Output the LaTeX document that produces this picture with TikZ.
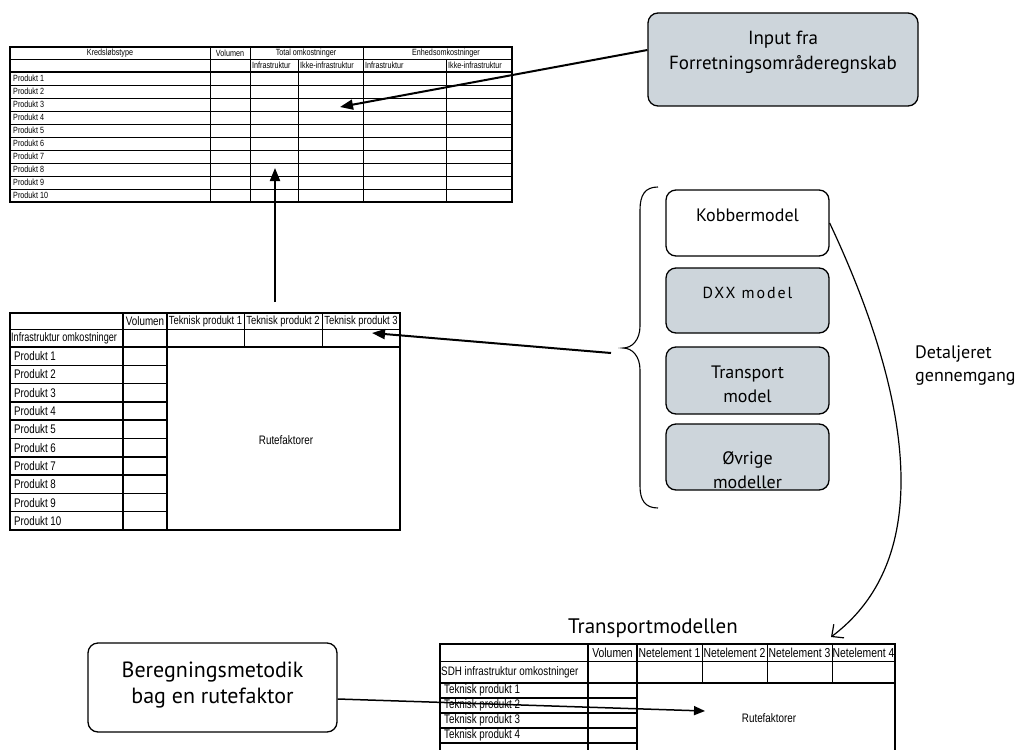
\documentclass[tikz,border=0pt]{standalone}
\usepackage{fontspec}
\setmainfont{Liberation Sans}
\newfontfamily\ptsans{PT Sans}
\newfontfamily\ptspaced[LetterSpace=12]{PT Sans}
\usetikzlibrary{arrows.meta}
\definecolor{boxgray}{RGB}{205,213,219}
\newcommand\nw[1]{\scalebox{0.8}[1]{#1}}
\tikzset{
  tsmall/.style={inner sep=0pt, font=\fontsize{9}{9}\selectfont},
  tmid/.style={inner sep=0pt, font=\fontsize{12.3}{13}\selectfont},
  thdr/.style={inner sep=0pt, font=\fontsize{11.8}{12}\selectfont},
  tnet/.style={inner sep=0pt, font=\fontsize{13}{13}\selectfont},
  tprod/.style={inner sep=0pt, font=\fontsize{12.5}{13}\selectfont},
  thin/.style={line width=0.9pt},
  thick2/.style={line width=2pt},
  mbox/.style={draw, line width=1.3pt, rounded corners=10pt, inner sep=0pt},
  bigtxt/.style={inner sep=0pt, align=center, font=\ptsans\fontsize{19}{25}\selectfont},
  arr/.style={line width=2pt, -{Triangle[length=13pt,width=10pt]}},
  arrthin/.style={line width=1.5pt, -{Triangle[length=11pt,width=9pt]}},
  curvearr/.style={line width=1.2pt, -{Straight Barb[length=9pt,width=17pt]}},
}
\begin{document}
\begin{tikzpicture}[x=1pt,y=-1pt]
\useasboundingbox (0,0) rectangle (1032,749);

% ---------------- top table ----------------
\draw[thin] (10,59) -- (512,59);
\foreach \y in {85,98,...,189} \draw[thin] (10,\y) -- (512,\y);
\foreach \x in {210,250,363} \draw[thin] (\x,47) -- (\x,202);
\foreach \x in {298,446} \draw[thin] (\x,59) -- (\x,202);
\draw[thick2] (10,72) -- (512,72);
\draw[thick2] (10,47) rectangle (512,202);
\node[tsmall] (k1) at (110,53) {\nw{Kredsløbstype}};
\node[tsmall] (k2) at (230,53) {\nw{Volumen}};
\node[tsmall] (k3) at (306,53) {\nw{Total omkostninger}};
\node[tsmall] (k4) at (446,53) {\nw{Enhedsomkostninger}};
\node[tsmall,anchor=west] (k5) at (252,65.5) {\nw{Infrastruktur}};
\node[tsmall,anchor=west] (k6) at (300,65.5) {\nw{Ikke-infrastruktur}};
\node[tsmall,anchor=west] (k7) at (365,65.5) {\nw{Infrastruktur}};
\node[tsmall,anchor=west] (k8) at (448,65.5) {\nw{Ikke-infrastruktur}};
\foreach \i in {1,...,10}
  \node[tsmall,anchor=west] (kp\i) at (13,{72+13*(\i-0.5)}) {\nw{Produkt \i}};

% ---------------- middle table ----------------
\draw[thin] (10,329) -- (400,329);
\foreach \i in {1,...,9} \draw[line width=1.5pt] (10,{347+18.3*\i}) -- (167,{347+18.3*\i});
\foreach \x in {123,167} \draw[line width=1.5pt] (\x,313) -- (\x,530);
\foreach \x in {244,322} \draw[thin] (\x,313) -- (\x,347);
\draw[thick2] (10,347) -- (400,347);
\draw[thick2] (10,313) rectangle (400,530);
\node[tmid] (m1) at (145,321) {\nw{Volumen}};
\node[thdr] (m2) at (205.5,321) {\nw{Teknisk produkt 1}};
\node[thdr] (m3) at (283,321) {\nw{Teknisk produkt 2}};
\node[thdr] (m4) at (361,321) {\nw{Teknisk produkt 3}};
\node[tmid,anchor=west] (m5) at (11,338) {\scalebox{0.74}[1]{Infrastruktur omkostninger}};
\foreach \i in {1,...,10}
  \node[tprod,anchor=west] (mp\i) at (14,{347+18.3*(\i-0.5)}) {\scalebox{0.78}[1]{Produkt \i}};
\node[tmid] (mr) at (286,440) {\nw{Rutefaktorer}};

% ---------------- bottom table ----------------
\node[font=\ptsans\fontsize{21}{24}\selectfont, inner sep=0pt] (tm) at (653,628) {Transportmodellen};
\draw[thin] (440,661) -- (895,661);
\foreach \y in {698,713,728,743} \draw[line width=1.5pt] (440,\y) -- (637,\y);
\foreach \x in {588,637} \draw[line width=1.5pt] (\x,644) -- (\x,760);
\foreach \x in {702,767,832} \draw[thin] (\x,644) -- (\x,683);
\draw[thick2] (440,683) -- (895,683);
\draw[thick2] (440,760) -- (440,644) -- (895,644) -- (895,760);
\node[tnet] (b1) at (612.5,652.5) {\nw{Volumen}};
\node[tnet] (b2) at (669.5,652.5) {\nw{Netelement 1}};
\node[tnet] (b3) at (734.5,652.5) {\nw{Netelement 2}};
\node[tnet] (b4) at (799.5,652.5) {\nw{Netelement 3}};
\node[tnet] (b5) at (863.5,652.5) {\nw{Netelement 4}};
\node[tmid,anchor=west] (b6) at (441,672) {\scalebox{0.8}[1]{SDH infrastruktur omkostninger}};
\foreach \i in {1,...,4}
  \node[tprod,anchor=west] (bp\i) at (444,{690.5+15*(\i-1)}) {\scalebox{0.78}[1]{Teknisk produkt \i}};
\node[tmid] (br) at (769,718) {\nw{Rutefaktorer}};

% ---------------- boxes ----------------
\node[mbox, fill=boxgray, minimum width=270pt, minimum height=93pt] (inp) at (783,59.5) {};
\node[bigtxt] (inptxt) at (783,52.5) {Input fra\\Forretningsområderegnskab};

\node[mbox, fill=white, minimum width=163pt, minimum height=66pt] (kob) at (747.5,223) {};
\node[bigtxt, font=\ptsans\fontsize{18}{24}\selectfont] (kobtxt) at (747.5,215) {Kobbermodel};
\node[mbox, fill=boxgray, minimum width=163pt, minimum height=65pt] (dxx) at (747.5,300.5) {};
\node[inner sep=0pt, font=\ptspaced\fontsize{16}{20}\selectfont] (dxxtxt) at (747.5,293) {DXX model};
\node[mbox, fill=boxgray, minimum width=163pt, minimum height=67pt] (trm) at (747.5,380.5) {};
\node[bigtxt, font=\ptsans\fontsize{18}{24}\selectfont] (trmtxt) at (747.5,384) {Transport\\model};
\node[mbox, fill=boxgray, minimum width=163pt, minimum height=66pt] (ovr) at (747.5,457) {};
\node[bigtxt, font=\ptsans\fontsize{18}{24}\selectfont] (ovrtxt) at (747.5,470) {Øvrige\\modeller};

\node[mbox, fill=white, minimum width=249pt, minimum height=89pt] (beg) at (212.5,687.5) {};
\node[bigtxt, font=\ptsans\fontsize{22}{26}\selectfont] (begtxt) at (212.5,685) {Beregningsmetodik\\bag en rutefaktor};

\node[inner sep=0pt, align=left, anchor=west, font=\ptsans\fontsize{18}{23}\selectfont] (det) at (915,366) {Detaljeret\\gennemgang};

% ---------------- brace ----------------
\draw[line width=1.1pt] (658,187) .. controls (645,187) and (640,195) .. (640,210) -- (640,326)
  .. controls (640,340) and (632,348) .. (623,348)
  .. controls (632,348) and (640,356) .. (640,370) -- (640,486)
  .. controls (640,500) and (645,508) .. (658,508);

% ---------------- connectors ----------------
\coordinate (t1) at (340,107);
\coordinate (s2) at (275,302);
\coordinate (t2) at (275,168);
\coordinate (s3) at (611,353);
\coordinate (t3) at (372,333);
\coordinate (t4) at (705,711);
\coordinate (t5) at (831,637);
\draw[arr] ([yshift=9.5pt]inp.west) -- (t1);
\draw[arr] (s2) -- (t2);
\draw[arr] (s3) -- (t3);
\draw[arrthin] ([yshift=-11.5pt]beg.east) -- (t4);
\draw[curvearr] (kob.east) .. controls (880,330) and (960,540) .. (t5);
\end{tikzpicture}
\end{document}
